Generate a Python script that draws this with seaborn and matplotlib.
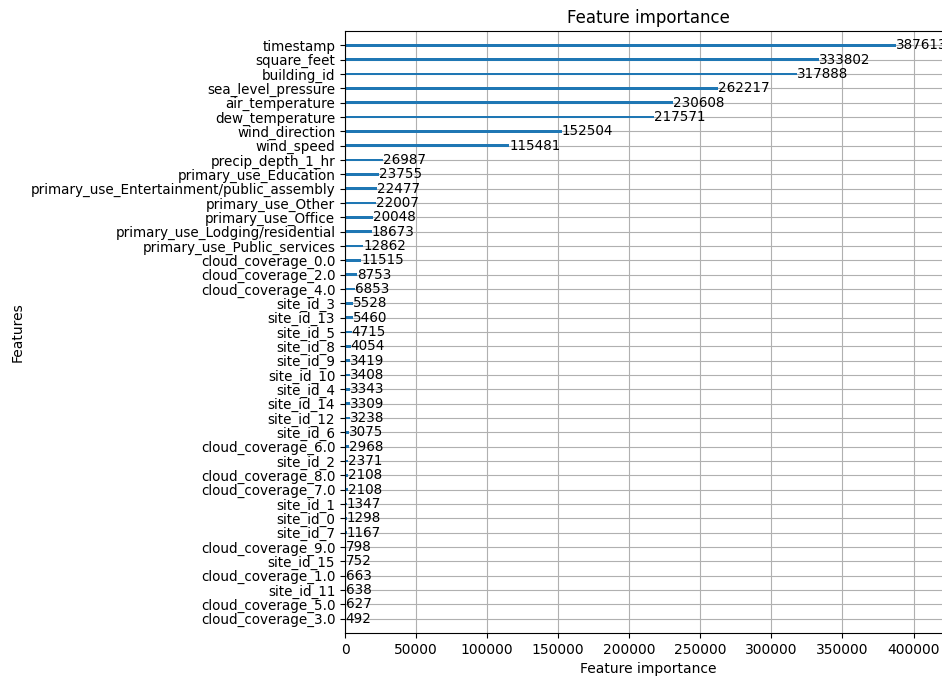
"""Feature importance (split counts) for the building energy model."""
import matplotlib
matplotlib.use("Agg")
import matplotlib.pyplot as plt
import seaborn as sns


features = [
    "timestamp", "square_feet", "building_id", "sea_level_pressure",
    "air_temperature", "dew_temperature", "wind_direction", "wind_speed",
    "precip_depth_1_hr", "primary_use_Education",
    "primary_use_Entertainment/public_assembly", "primary_use_Other",
    "primary_use_Office", "primary_use_Lodging/residential",
    "primary_use_Public_services", "cloud_coverage_0.0", "cloud_coverage_2.0",
    "cloud_coverage_4.0", "site_id_3", "site_id_13", "site_id_5", "site_id_8",
    "site_id_9", "site_id_10", "site_id_4", "site_id_14", "site_id_12",
    "site_id_6", "cloud_coverage_6.0", "site_id_2", "cloud_coverage_8.0",
    "cloud_coverage_7.0", "site_id_1", "site_id_0", "site_id_7",
    "cloud_coverage_9.0", "site_id_15", "cloud_coverage_1.0", "site_id_11",
    "cloud_coverage_5.0", "cloud_coverage_3.0",
]
importance = [
    387613, 333802, 317888, 262217, 230608, 217571, 152504, 115481,
    26987, 23755, 22477, 22007, 20048, 18673, 12862, 11515, 8753, 6853,
    5528, 5460, 4715, 4054, 3419, 3408, 3343, 3309, 3238, 3075, 2968,
    2371, 2108, 2108, 1347, 1298, 1167, 798, 752, 663, 638, 627, 492,
]


############################## Plot it.

fig = plt.figure(figsize=(9.42, 6.77), dpi=100)
# axes runs slightly past the right edge, as in the cropped original
ax = fig.add_axes([345 / 942, 44 / 677, 606 / 942, 602 / 677])

sns.barplot(x=importance, y=features, orient="h", width=0.2,
            color="C0", saturation=1, ax=ax)

for i, v in enumerate(importance):
    ax.text(v + 1, i, str(v), va="center", fontsize=9.75)

n = len(features)
ax.set_xlim(0, max(importance) * 1.1)
ax.set_ylim(n, -1)
ax.grid(True)
ax.set_axisbelow(True)
ax.tick_params(axis="y", labelsize=9.75)
ax.set_title("Feature importance")
ax.set_xlabel("Feature importance")
ax.set_ylabel("Features")

plt.savefig("out.png", dpi=100)
plt.close()
